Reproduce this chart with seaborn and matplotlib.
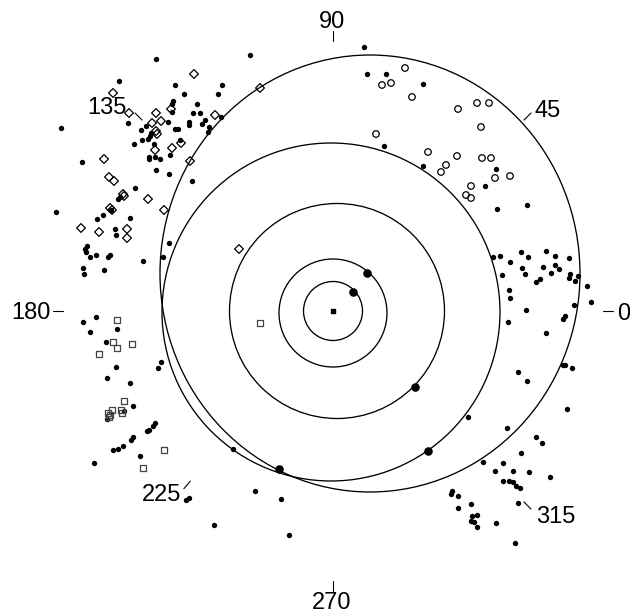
import numpy as np
import pandas as pd
import matplotlib
matplotlib.use("Agg")
import matplotlib.pyplot as plt
import seaborn as sns
from matplotlib.patches import Circle, Ellipse

# ---------------- data (plane coordinates, origin at the central body, y up) -------------
# circular orbits
orbit_cx = [0, 0, 4, -2]
orbit_cy = [0, -2, 0, -1]
orbit_r = [29.5, 54, 107.5, 169]
# outer eccentric orbit
outer_cx, outer_cy = 37, 37.5
outer_w, outer_h = 420, 437

# bodies on the orbits
body_x = [20, 34, 82, 95, -54]
body_y = [19, 38, -76, -140, -158]

# small filled dots
dot_x = [-177, -83, -214, -158, -111, -149, -115, -160, -161, -136, -161, -140, -133, -112,
         -205, -272, -192, -187, -165, -144, -144, -128, -131, -124, -158, -155, -182, -125,
         -191, -185, -183, -153, -199, -179, -163, -184, -184, -178, -173, -251, -177, -164,
         -141, -198, -215, -213, -277, -222, -230, -236, -203, -218, -217, -164, -246, -248,
         -247, -243, -237, -225, -223, -190, -250, -249, -229, -170,
         -237, -250, -243, -216, -227, -172, -175, -217, -226, -203, -200, -209, -226, -178,
         -180, -184, -186, -200, -202, -210, -215, -220, -193, -239, -100, -144, -147, -78,
         -52, -119, -44,
         31, 34, 53, 90, 51, 90, 163, 152, 164, 194,
         160, 167, 177, 188, 195, 213, 222, 236, 169, 189, 192, 210, 222, 226, 218, 207,
         203, 237, 245, 236, 242, 254, 176, 177, 258, 193, 241, 232, 230, 175, 213, 230,
         232, 239, 185, 194, 234,
         135, 174, 203, 209, 188, 150, 170, 162, 180, 196, 217, 170, 176, 180, 183, 187,
         119, 118, 125, 138, 185, 125, 144, 139, 138, 141, 144, 163, 182]
dot_y = [252, 256, 230, 226, 226, 217, 217, 210, 207, 207, 199, 198, 198, 194,
         188, 183, 181, 185, 189, 189, 186, 191, 187, 184, 182, 182, 178, 179,
         171, 172, 175, 171, 167, 167, 156, 154, 152, 154, 152, 149, 141, 137,
         130, 123, 112, 114, 99, 101, 96, 92, 93, 82, 76, 68, 65, 62,
         59, 54, 56, 54, 56, 50, 43, 37, 41, 54,
         -6, -11, -21, -18, -31, -51, -57, -56, -67, -72, -95, -100, -108, -112,
         -115, -119, -120, -126, -129, -135, -138, -139, -145, -152, -138, -187, -189, -180,
         -188, -214, -224,
         264, 237, 237, 227, 165, 145, 142, 125, 102, 106,
         54, 55, 49, 59, 54, 60, 55, 53, 36, 43, 37, 44, 46, 42, 38, 32,
         29, 37, 35, 33, 30, 25, 21, 13, 9, 1, 6, -5, -8, -11, -22, -54,
         -54, -57, -61, -70, -98,
         -106, -117, -126, -132, -142, -151, -152, -160, -160, -161, -166, -170, -170, -171, -175, -177,
         -180, -183, -185, -193, -192, -197, -204, -205, -210, -211, -216, -212, -232]

# open circles
ring_x = [72, 49, 58, 79, 125, 144, 156, 148, 43, 95, 124, 149, 158, 113, 108, 162, 177, 138, 133, 138]
ring_y = [243, 226, 228, 214, 202, 208, 208, 184, 177, 159, 155, 153, 153, 146, 139, 133, 135, 125, 116, 113]

# open diamonds
diam_x = [-139, -220, -204, -177, -162, -118, -181, -172, -177, -176, -152, -161, -178, -143, -73,
          -229, -224, -219, -210, -209, -185, -223, -221, -169, -252, -234, -206, -206, -94]
diam_y = [237, 218, 198, 198, 202, 196, 188, 190, 180, 177, 168, 163, 161, 150, 223,
          152, 134, 130, 117, 115, 112, 103, 101, 101, 83, 79, 82, 73, 62]

# open squares
sq_x = [-216, -220, -216, -201, -234, -209, -221, -225, -223, -224, -212, -211, -169, -190, -73]
sq_y = [-9, -31, -37, -33, -43, -90, -99, -102, -104, -106, -99, -102, -139, -157, -12]

# angle labels around the diagram
angle_labels = [0, 45, 90, 135, 180, 225, 270, 315]

# ---------------- figure ----------------
sns.set_theme(style="white")
plt.rcParams["font.family"] = ["Liberation Sans", "DejaVu Sans"]

fig = plt.figure(figsize=(6.3, 6.13), dpi=100)
ax = fig.add_axes([0, 0, 1, 1])
ax.set_xlim(-333, 297)
ax.set_ylim(-302, 311)
ax.set_aspect("equal")
ax.axis("off")

for cx, cy, r in zip(orbit_cx, orbit_cy, orbit_r):
    ax.add_patch(Circle((cx, cy), r, fill=False, ec="black", lw=0.95))
ax.add_patch(Ellipse((outer_cx, outer_cy), outer_w, outer_h, fill=False, ec="black", lw=0.95))

dots = pd.DataFrame({"x": dot_x, "y": dot_y})
rings = pd.DataFrame({"x": ring_x, "y": ring_y})
diams = pd.DataFrame({"x": diam_x, "y": diam_y})
sqs = pd.DataFrame({"x": sq_x, "y": sq_y})
bodies = pd.DataFrame({"x": body_x, "y": body_y})

sns.scatterplot(data=dots, x="x", y="y", marker="o", s=15, color="black",
                linewidth=0, ax=ax, zorder=3)
sns.scatterplot(data=rings, x="x", y="y", marker="o", s=22, facecolor="none",
                edgecolor="black", linewidth=0.9, ax=ax, zorder=3)
sns.scatterplot(data=diams, x="x", y="y", marker="D", s=20, facecolor="none",
                edgecolor="black", linewidth=0.9, ax=ax, zorder=3)
sns.scatterplot(data=sqs, x="x", y="y", marker="s", s=22, facecolor="none",
                edgecolor="#444444", linewidth=0.9, ax=ax, zorder=3)
sns.scatterplot(data=bodies, x="x", y="y", marker="o", s=38, color="black",
                linewidth=0, ax=ax, zorder=4)
ax.scatter([0], [0], marker="s", s=7, color="black", zorder=4)

# angle ticks and labels: (tick angle, inner radius, outer radius, text radius, text angle, ha, va)
tick_geom = {0: (0, 270, 280, 285, 0, "left", "center_baseline"),
             45: (45, 270, 280, 287, 45, "left", "center_baseline"),
             90: (90, 270, 280, 283, 90, "center", "baseline"),
             135: (135, 270, 280, 291, 135, "right", "center_baseline"),
             180: (180, 270, 280, 281, 180, "right", "center_baseline"),
             225: (230, 222, 232, 236, 230.3, "right", "center_baseline"),
             270: (270, 270, 280, 281, 270, "center", "top"),
             315: (315, 270, 280, 288, 315, "left", "center_baseline")}
for a in angle_labels:
    ang, r0, r1, rt, at, ha, va = tick_geom[a]
    t = np.deg2rad(ang)
    c, s_ = np.cos(t), np.sin(t)
    ax.plot([r0 * c, r1 * c], [r0 * s_, r1 * s_], color="black", lw=0.8)
    tt = np.deg2rad(at)
    tx, ty = rt * np.cos(tt) - 1, rt * np.sin(tt)
    ax.text(tx, ty, str(a), ha=ha, va=va, fontsize=17, color="black")

fig.savefig("out.png", dpi=100, facecolor="white")
